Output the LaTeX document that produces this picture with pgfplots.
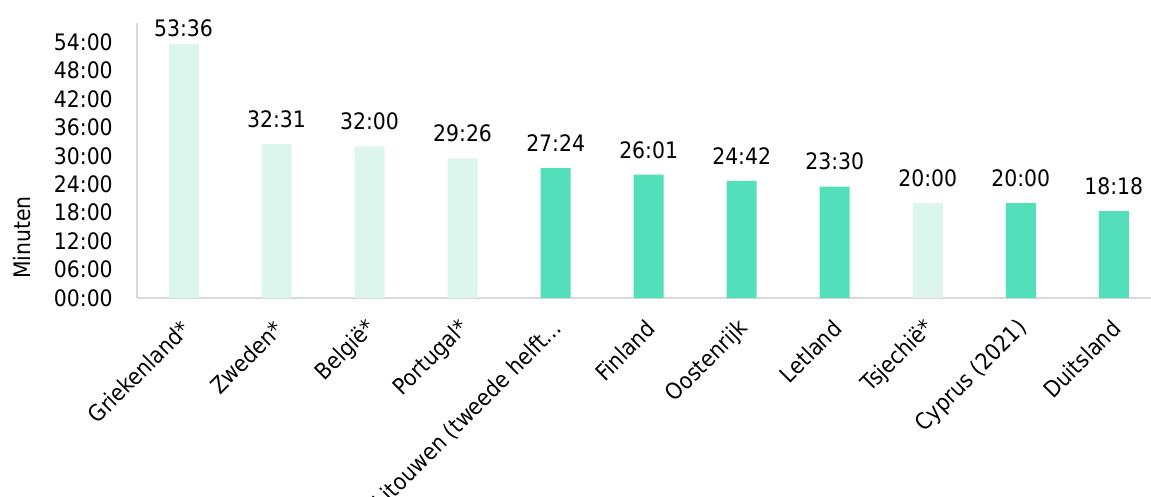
\documentclass[border=0pt]{standalone}
\usepackage{pgfplots}
\usepackage{pgfplotstable}
\pgfplotsset{compat=1.18}
\usepackage{fontspec}
\setmainfont{DejaVu Sans Condensed}
\definecolor{lightbar}{HTML}{DCF6EE}
\definecolor{darkbar}{HTML}{52DFBA}
\definecolor{axgray}{HTML}{D9D9D9}

\pgfplotstableread{
x y lab
0 53.600 53:36
}\greek
\pgfplotstableread{
x y lab
1 32.517 32:31
2 32.000 32:00
3 29.433 29:26
8 20.000 20:00
}\lighttab
\pgfplotstableread{
x y lab
4 27.400 27:24
5 26.017 26:01
6 24.700 24:42
7 23.500 23:30
9 20.000 20:00
10 18.300 18:18
}\darktab

\begin{document}
\begin{tikzpicture}[x=0.75pt,y=0.75pt]
\path[use as bounding box] (-137,-198) rectangle (1014,298);
\clip (-137,-198) rectangle (1014,298);
\begin{axis}[
  at={(0,0)}, anchor=south west,
  scale only axis, width=760.5pt, height=206.25pt,
  xmin=-0.5, xmax=10.40, ymin=0, ymax=58,
  axis x line*=bottom, axis y line*=left,
  axis line style={draw=axgray, line width=0.8pt},
  tick style={draw=none}, major tick length=0pt,
  xtick={0,...,10},
  xticklabels={Griekenland*, Zweden*, België*, Portugal*, {Litouwen (tweede helft…}, Finland, Oostenrijk, Letland, Tsjechië*, Cyprus (2021), Duitsland},
  ytick={0,6,...,54},
  yticklabels={00:00,06:00,12:00,18:00,24:00,30:00,36:00,42:00,48:00,54:00},
  font=\fontsize{17}{20}\selectfont,
  yticklabel style={inner sep=0pt, xshift=-18pt, anchor=east},
  xticklabel style={inner sep=0pt, xshift=2pt, yshift=-20pt, rotate=45, anchor=east},
  ylabel={Minuten},
  ylabel style={at={(rel axis cs:-0.113,0.22)}, anchor=center, rotate=0},
  ybar, bar width=22.5pt, bar shift=0pt,
  point meta=explicit symbolic,
  nodes near coords,
  every node near coord/.append style={anchor=south, inner sep=0pt, yshift=12pt, text=black},
  clip=false,
]
\addplot[fill=lightbar, draw=none, every node near coord/.append style={yshift=-7pt}] table[x=x, y=y, meta=lab] {\greek};
\addplot[fill=lightbar, draw=none] table[x=x, y=y, meta=lab] {\lighttab};
\addplot[fill=darkbar, draw=none] table[x=x, y=y, meta=lab] {\darktab};
\end{axis}
\end{tikzpicture}
\end{document}
